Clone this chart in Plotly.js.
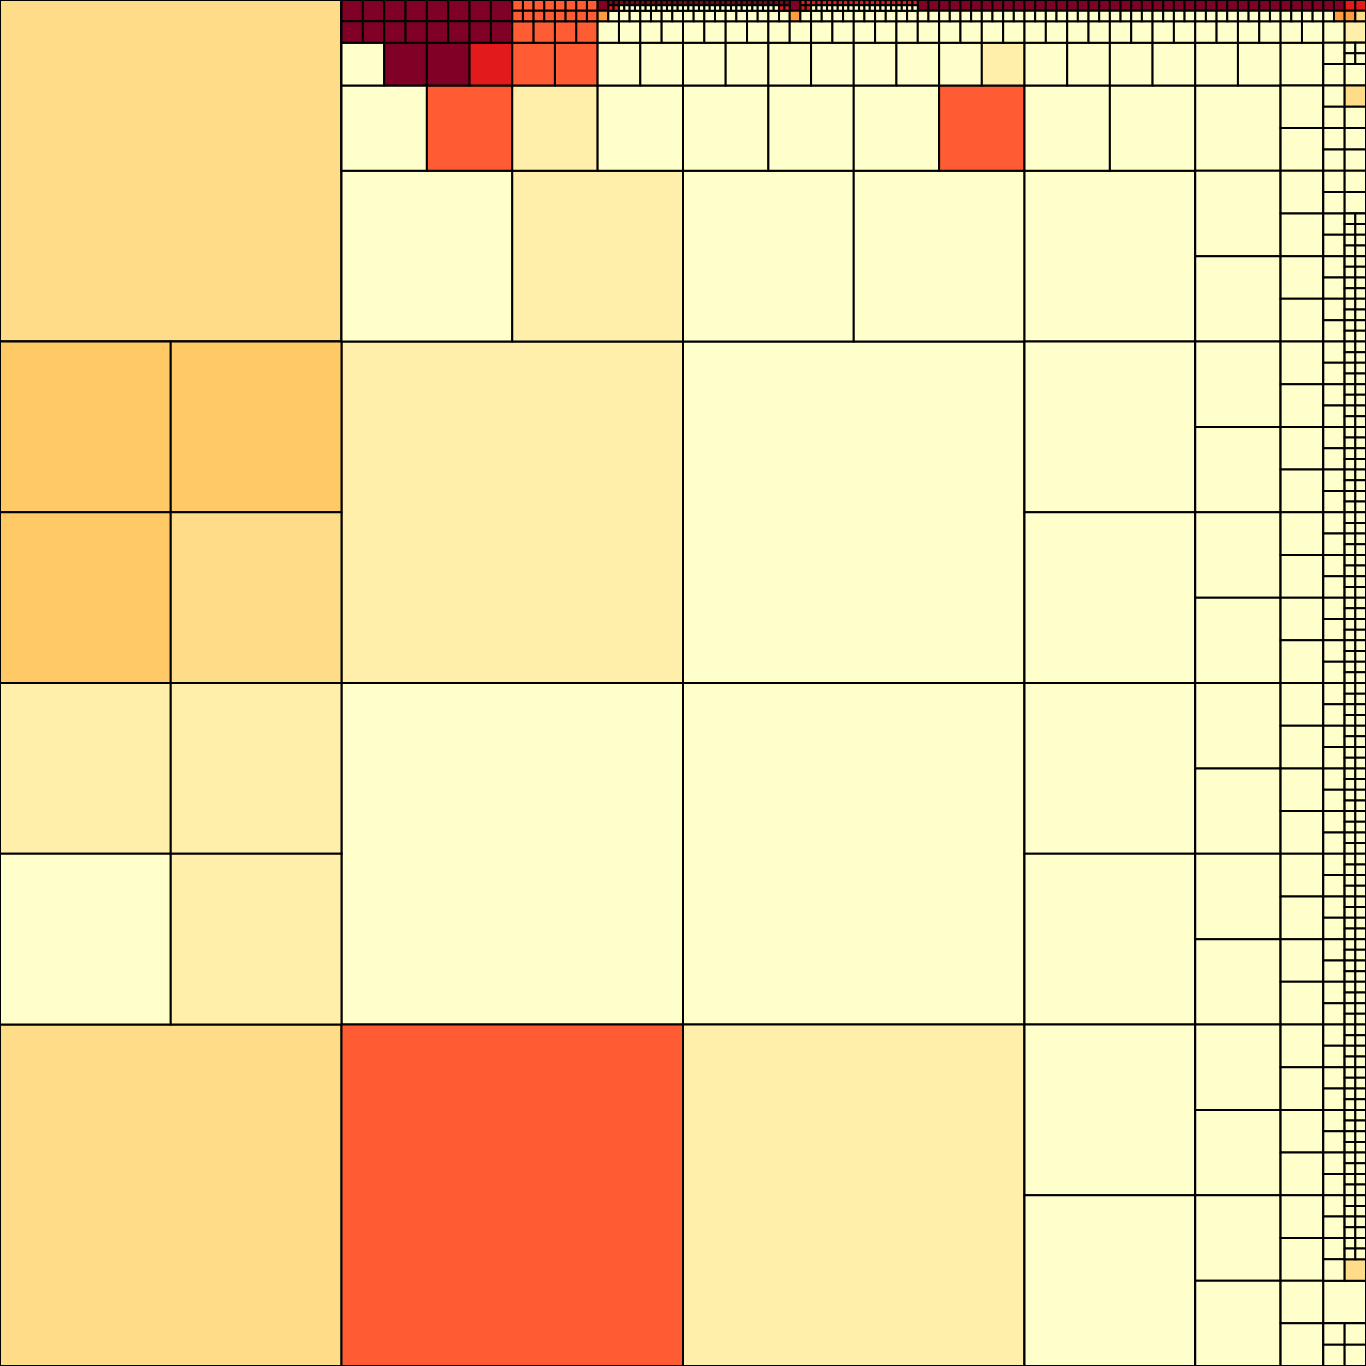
<!DOCTYPE html>
<html><head><meta charset="utf-8">
<script src="https://cdn.plot.ly/plotly-3.0.1.min.js"></script>
<style>html,body{margin:0;padding:0;background:#fff;}#chart{width:1366px;height:1366px;}</style>
</head><body><div id="chart"></div>
<script>
// ---- DATA ----
// Quadtree written in preorder: "S" = node split into 4 (TL, TR, BL, BR), a letter = leaf with that colour level.
const levelNames = ['a','b','c','d','e','f','g','h'];
const levelColours = ['#ffffcc','#ffefaa','#ffdc88','#ffc966','#fe9c40','#ff5c33','#e31a1c','#800026'];

// Top strip: depth-6 cells along the top edge (x from 598 to 1366), one entry per cell
const topStripCells = [
 "ShShhggea",
 "SShhaaShhaaaa","SShhaaShhaaaa","SShhaaShhaaaa","SShhaaShhaaaa","SShhaaShhaaaa","SShhaaShhaaaa","SShhaaShhaaaa",
 "SShhaaShhggaa",
 "ShSggggea",
 "SSggaaSggaaaa","SSggaaSggaaaa","SSggaaSggaaaa","SSggaaSggaaaa","SSggaaSggaaaa",
 "Shhaa","Shhaa","Shhaa","Shhaa","Shhaa","Shhaa","Shhaa","Shhaa","Shhaa","Shhaa",
 "Shhaa","Shhaa","Shhaa","Shhaa","Shhaa","Shhaa","Shhaa","Shhaa","Shhaa",
 "Shhae",
 "Sggec"
];
// second row of depth-6 cells under the top strip
const topStripRow3 = ["a","a","a","a","a","a","a","a","a","a","a","a","a","a","a","a","a","a",
 "a","a","a","a","a","a","a","a","a","a","a","a","a","a","a","a","a","b"];
// depth-5 cells in the row below
const topStripRow4 = ["a","a","a","a","a","a","a","a","a","b","a","a","a","a","a","a","a","SaSaaaaaa"];

// Right strip: depth-4 cells along the right edge, rows 1..15
const rightStrip = [
 "SaSacaaaSaaaa",
 "SaSaaaaaSaSaaaaaSaaaa",
 "SaSaSaaaaaSaaaaaSaSaaaaaSaaaa","SaSaSaaaaaSaaaaaSaSaaaaaSaaaa","SaSaSaaaaaSaaaaaSaSaaaaaSaaaa",
 "SaSaSaaaaaSaaaaaSaSaaaaaSaaaa","SaSaSaaaaaSaaaaaSaSaaaaaSaaaa","SaSaSaaaaaSaaaaaSaSaaaaaSaaaa",
 "SaSaSaaaaaSaaaaaSaSaaaaaSaaaa","SaSaSaaaaaSaaaaaSaSaaaaaSaaaa","SaSaSaaaaaSaaaaaSaSaaaaaSaaaa",
 "SaSaSaaaaaSaaaaaSaSaaaaaSaaaa","SaSaSaaaaaSaaaaaSaSaaaaaSaaaa",
 "SaSaSaaaaaSaaaaaSaSaaaaac",
 "SaaaSaaaa"
];

// Upper-left block cells
const blockA1 = "SShhhhShhhhah";
const blockA2 = "SShhhhShhhhhg";
const blockB1a = "SSffffSffffff";
const blockQ0BL = "Sdddc";
const blockQ2TL = "Sbbab";

// ---- assemble ----
const nCells = [];
for (let j = 0; j < topStripRow4.length; j++)
  nCells.push('S' + topStripCells[2*j] + topStripCells[2*j+1] + topStripRow3[2*j] + topStripRow3[2*j+1]);
const pCells = [];
for (let i = 0; i < nCells.length/2; i++)
  pCells.push('S' + nCells[2*i] + nCells[2*i+1] + topStripRow4[2*i] + topStripRow4[2*i+1]);
const P = k => pCells[k-7];
const J = j => rightStrip[j-1];

const A = 'S' + blockA1 + blockA2 + 'a' + 'f';
const B1 = 'S' + blockB1a + blockB1a + 'f' + 'f';
const B = 'S' + B1 + P(7) + 'b' + 'a';
const Q0 = 'S' + 'c' + ('S' + A + B + 'a' + 'b') + blockQ0BL + 'b';
const Q1TL = 'S' + ('S'+P(8)+P(9)+'aa') + ('S'+P(10)+P(11)+'af') + 'a' + 'a';
const Q1TR = 'S' + ('S'+P(12)+P(13)+'aa') + ('S'+P(14)+P(15)+'a'+J(1)) + 'a' + ('S'+'a'+J(2)+'a'+J(3));
const Q1BR = 'S' + 'a' + ('S'+'a'+J(4)+'a'+J(5)) + 'a' + ('S'+'a'+J(6)+'a'+J(7));
const Q1 = 'S' + Q1TL + Q1TR + 'a' + Q1BR;
const Q2 = 'S' + blockQ2TL + 'a' + 'c' + 'f';
const Q3 = 'S' + 'a' + ('S'+'a'+('S'+'a'+J(8)+'a'+J(9))+'a'+('S'+'a'+J(10)+'a'+J(11))) + 'b' +
           ('S'+'a'+('S'+'a'+J(12)+'a'+J(13))+'a'+('S'+'a'+J(14)+'a'+J(15)));
const tree = 'S' + Q0 + Q1 + Q2 + Q3;

const MAXD = 8;
let pos = 0;
function parseNode(id, parent, depth) {
  const ch = tree[pos++];
  if (ch === 'S') {
    const recs = [{id, parent, value: 0, color: '#000000'}];
    const kids = [];
    for (let q = 0; q < 4; q++) kids.push(parseNode(id + q, id, depth + 1));
    // squarify lays 4 equal children out column by column: TL, BL, TR, BR
    [0, 2, 1, 3].forEach(q => { for (const r of kids[q]) recs.push(r); });
    return recs;
  }
  return [{id, parent, value: Math.pow(4, MAXD - depth), color: levelColours[levelNames.indexOf(ch)]}];
}
const recs = parseNode('r', '', 0);
if (pos !== tree.length) console.error('tree parse mismatch', pos, tree.length);

Plotly.newPlot('chart', [{
  type: 'treemap',
  ids: recs.map(r => r.id),
  labels: recs.map(r => r.id),
  parents: recs.map(r => r.parent),
  values: recs.map(r => r.value),
  branchvalues: 'remainder',
  sort: false,
  maxdepth: -1,
  tiling: {packing: 'squarify', squarifyratio: 1, pad: 0},
  marker: {colors: recs.map(r => r.color), line: {color: '#000', width: 2},
           pad: {t: 0, l: 0, r: 0, b: 0}, cornerradius: 2, depthfade: false},
  textinfo: 'none',
  hoverinfo: 'skip',
  pathbar: {visible: false}
}], {
  width: 1366, height: 1366, margin: {l: 0, r: 0, t: 0, b: 0},
  paper_bgcolor: '#ffffff'
}, {staticPlot: true, displayModeBar: false});
</script></body></html>
